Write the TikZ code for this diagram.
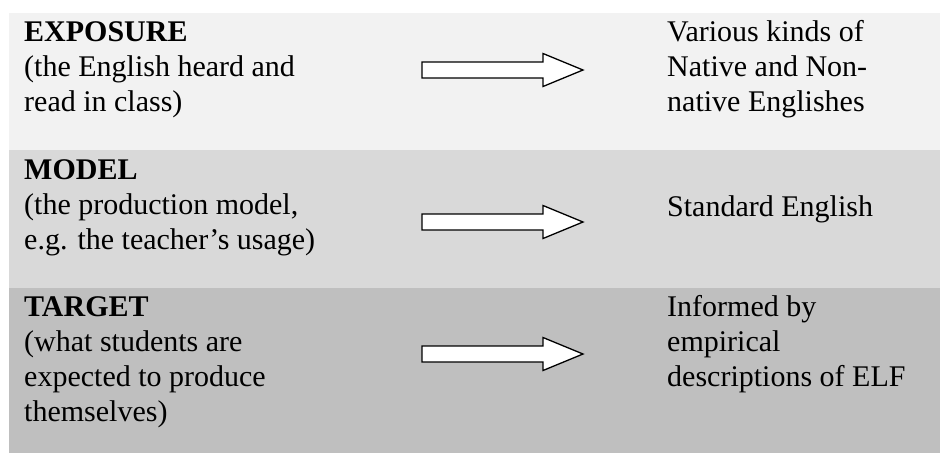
\documentclass[tikz,border=0pt]{standalone}
\usepackage{fontspec}
\setmainfont{Liberation Serif}
\definecolor{rowA}{HTML}{F2F2F2}
\definecolor{rowB}{HTML}{D9D9D9}
\definecolor{rowC}{HTML}{BFBFBF}
\newcommand\firstline{\rule{0pt}{24pt}}
\tikzset{
  celltext/.style={anchor=north west, inner sep=0pt, align=left,
    font=\fontsize{30}{35}\selectfont},
  bigarrow/.pic={
    \draw[line width=1.3pt, fill=white, line join=miter]
      (-80.5,-8) -- (40.5,-8) -- (40.5,-16.5) -- (80.5,0) -- (40.5,16.5)
      -- (40.5,8) -- (-80.5,8) -- cycle;
  }
}
\begin{document}
\begin{tikzpicture}[x=1pt,y=-1pt]
\useasboundingbox (0,0) rectangle (940,453);
\fill[white] (0,0) rectangle (940,453);
\fill[rowA] (9,13) rectangle (940,150);
\fill[rowB] (9,150) rectangle (940,288);
\fill[rowC] (9,288) rectangle (940,453);
% left column
\node[celltext] (exposure) at (24,17.7) {\firstline\textbf{EXPOSURE}\\(the English heard and\\read in class)};
\node[celltext] (model) at (24,155) {\firstline\textbf{MODEL}\\(the production model,\\e.g. the teacher’s usage)};
\node[celltext] (target) at (24,292) {\firstline\textbf{TARGET}\\(what students are\\expected to produce\\themselves)};
% right column
\node[celltext] (various) at (667,17.7) {\firstline Various kinds of\\Native and Non-\\native Englishes};
\node[celltext] (standard) at (667,192) {\firstline Standard English};
\node[celltext] (informed) at (667,292) {\firstline Informed by\\empirical\\descriptions of ELF};
% arrows
\pic (arrA) at (502.5,70) {bigarrow};
\pic (arrB) at (502.5,222) {bigarrow};
\pic (arrC) at (502.5,354) {bigarrow};
\end{tikzpicture}
\end{document}
